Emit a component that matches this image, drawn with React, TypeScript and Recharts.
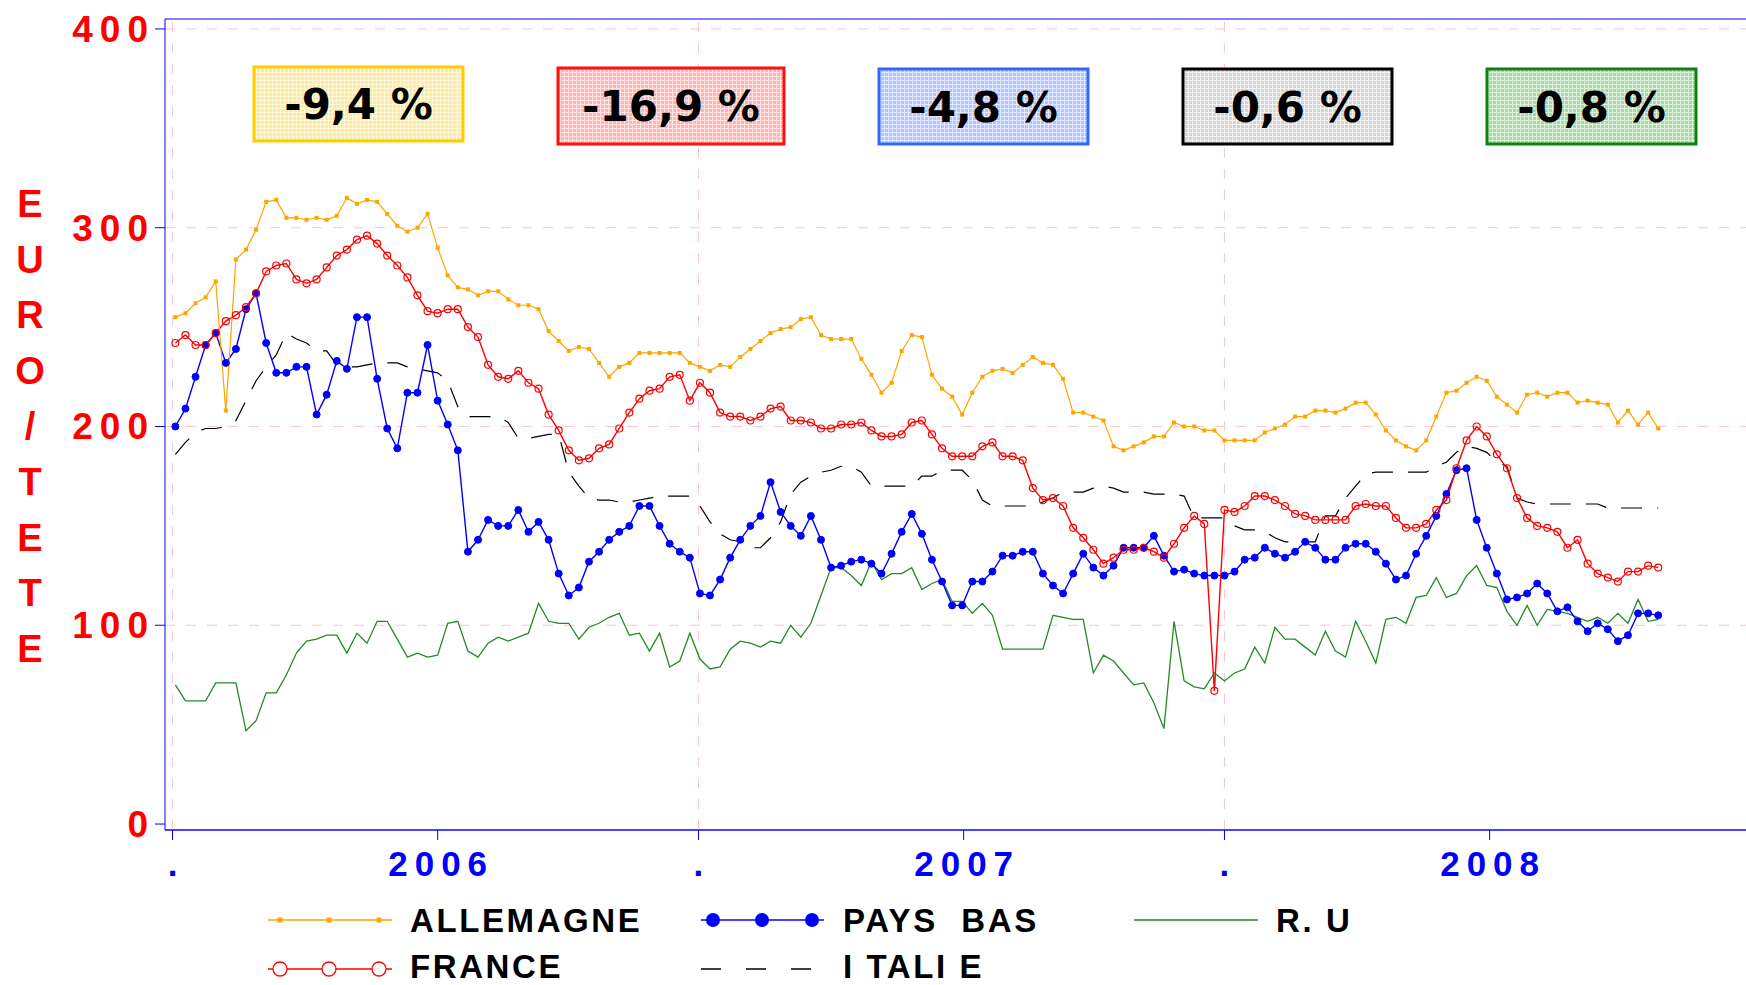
import React from "react";
import { LineChart, Line, XAxis, YAxis, ReferenceLine } from "recharts";

document.body.style.margin = "0";

// weekly prices, first week starting 2005-07-03
const startDate = "2005-07-03";

const allemagne = [
  255, 257, 262, 265, 273, 208, 284, 289, 299, 313, 314, 305, 305, 304, 305, 304, 306, 315, 312, 314, 313, 307, 301, 298, 300, 307,
  290, 276, 270, 269, 266, 268, 268, 264, 261, 261, 259, 248, 243, 238, 240, 239, 232, 225, 230, 232, 237, 237, 237, 237, 237, 232,
  230, 228, 231, 230, 235, 239, 243, 247, 249, 250, 254, 255, 246, 244, 244, 244, 234, 226, 217, 222, 238, 246, 245, 226, 219, 215,
  206, 217, 225, 228, 229, 227, 231, 235, 232, 231, 224, 207, 207, 205, 203, 190, 188, 190, 192, 195, 195, 202, 200, 200, 198, 198,
  193, 193, 193, 193, 197, 199, 201, 205, 205, 208, 208, 207, 209, 212, 212, 206, 198, 193, 190, 188, 193, 205, 217, 218, 222,
  225, 223, 215, 211, 207, 216, 217, 215, 217, 217, 212, 213, 212, 211, 202, 208, 201, 207, 199,
];

const france = [
  242, 246, 241, 241, 247, 253, 256, 260, 267, 278, 281, 282, 274, 272, 274, 280, 286, 289, 294, 296, 292, 286, 281, 275, 266, 258,
  257, 259, 259, 250, 245, 231, 225, 224, 228, 222, 219, 206, 198, 188, 183, 184, 189, 191, 199, 207, 214, 218, 219, 225, 226, 213,
  222, 217, 207, 205, 205, 203, 205, 209, 210, 203, 203, 202, 199, 199, 201, 201, 202, 198, 195, 195, 196, 202, 203, 196, 189, 185,
  185, 185, 190, 192, 185, 185, 183, 169, 163, 164, 160, 149, 144, 138, 131, 134, 138, 138, 139, 137, 134, 141, 149, 155, 151, 67,
  158, 157, 160, 165, 165, 163, 160, 156, 155, 153, 153, 153, 153, 160, 161, 160, 160, 154, 149, 149, 151, 158, 163, 179, 193,
  200, 195, 186, 179, 164, 154, 150, 149, 147, 139, 143, 131, 126, 124, 122, 127, 127, 130, 129,
];

const paysBas = [
  200, 209, 225, 241, 247, 232, 239, 259, 267, 242, 227, 227, 230, 230, 206, 216, 233, 229, 255, 255, 224, 199, 189, 217, 217, 241,
  213, 201, 188, 137, 143, 153, 150, 150, 158, 147, 152, 143, 126, 115, 119, 132, 137, 143, 147, 150, 160, 160, 150, 141, 137, 134,
  116, 115, 123, 134, 143, 150, 155, 172, 157, 150, 145, 155, 143, 129, 130, 132, 133, 131, 126, 136, 147, 156, 146, 133, 122, 110,
  110, 122, 122, 127, 135, 135, 137, 137, 126, 120, 116, 126, 136, 129, 125, 130, 139, 139, 139, 145, 135, 127, 128, 126, 125, 125,
  125, 127, 133, 134, 139, 136, 134, 137, 142, 139, 133, 133, 139, 141, 141, 137, 131, 123, 125, 136, 145, 155, 166, 178, 179,
  153, 139, 126, 113, 114, 116, 121, 116, 107, 109, 102, 97, 101, 98, 92, 95, 106, 106, 105,
];

const ru = [
  70, 62, 62, 62, 71, 71, 71, 47, 52, 66, 66, 75, 86, 92, 93, 95, 95, 86, 96, 91, 102, 102, 93, 84, 86, 84,
  85, 101, 102, 87, 84, 91, 94, 92, 94, 96, 111, 102, 101, 101, 93, 99, 101, 104, 106, 95, 96, 87, 96, 79, 82, 96,
  83, 78, 79, 88, 92, 91, 89, 92, 91, 100, 94, 101, 115, 129, 129, 125, 120, 132, 123, 126, 126, 129, 118, 121, 123, 112,
  112, 106, 111, 105, 88, 88, 88, 88, 88, 105, 104, 103, 103, 76, 85, 82, 76, 70, 71, 61, 48, 102, 72, 69, 68, 76,
  72, 76, 78, 89, 81, 99, 93, 93, 89, 85, 97, 87, 84, 102, 92, 81, 103, 104, 101, 114, 115, 124, 114, 116, 125,
  130, 120, 119, 107, 100, 110, 100, 108, 107, 106, 104, 102, 104, 101, 106, 101, 113, 102, 103,
];

const italie = [
  186, 192, 197, 199, 199, 200, 203, 213, 223, 230, 236, 247, 244, 242, 238, 238, 231, 230, 230, 231, 232, 232, 232, 230, 229, 228,
  227, 223, 210, 205, 205, 205, 205, 202, 194, 194, 195, 196, 196, 177, 170, 164, 163, 163, 162, 162, 163, 164, 165, 165, 165, 165,
  160, 152, 146, 143, 142, 139, 139, 144, 152, 166, 172, 175, 177, 178, 180, 180, 177, 170, 170, 170, 170, 170, 175, 175, 178, 178,
  178, 173, 163, 160, 160, 160, 160, 160, 162, 164, 167, 167, 167, 169, 170, 169, 167, 167, 167, 166, 166, 166, 165, 154, 154, 154,
  154, 150, 148, 148, 147, 144, 142, 142, 142, 142, 155, 155, 164, 170, 176, 177, 177, 177, 177, 177, 177, 180, 182, 187, 190,
  189, 187, 182, 180, 164, 162, 161, 161, 161, 161, 161, 161, 161, 159, 159, 159, 159, 159, 159,
];

const tickDates = ["2005-07-01", "2006-01-01", "2006-07-01", "2007-01-01", "2007-07-01", "2008-01-01"];
const tickLabels = [".", "2006", ".", "2007", ".", "2008"];
const yTicks = [0, 100, 200, 300, 400];
const gridValues = [100, 200, 300, 400];
const badgeTexts = ["-9,4 %", "-16,9 %", "-4,8 %", "-0,6 %", "-0,8 %"];
const axisTitle = "EURO/TETE";

const DAY = 86400000;
const t0 = Date.parse(startDate);
const toDay = (s: string) => Math.round((Date.parse(s) - t0) / DAY);
const tickDays = tickDates.map(toDay);
const gridDays = tickDays.filter((_, i) => tickLabels[i] === ".");

const data = allemagne.map((v, i) => ({
  day: i * 7,
  allemagne: v,
  france: france[i],
  paysBas: paysBas[i],
  italie: italie[i],
  ru: ru[i],
}));

const FONT = "'Liberation Sans', Arial, sans-serif";
const BADGE_FONT = "'DejaVu Sans', sans-serif";
const PINK = "#ffc4ce";

function XTick(props: any) {
  const { x, y, payload } = props;
  const label = tickLabels[tickDays.indexOf(payload.value)];
  return (
    <text x={x + 3.5} y={y + 34} textAnchor="middle" fill="#0000ff" fontSize={35} fontWeight="bold" fontFamily={FONT} letterSpacing={7}>
      {label}
    </text>
  );
}

function YTick(props: any) {
  const { x, y, payload } = props;
  return (
    <text x={x + 2} y={y + 13} textAnchor="end" fill="#ff0000" fontSize={37} fontWeight="bold" fontFamily={FONT} letterSpacing={7}>
      {payload.value}
    </text>
  );
}

const squareDot = (p: any) => (
  <rect key={`sq-${p.index}`} x={p.cx - 2} y={p.cy - 2} width={4} height={4} fill="#ffa500" />
);

// badge boxes: [left, top, width, height], border, base fill, grid
const badgeBoxes = [
  { box: [254, 67, 209, 74], border: "#ffcc00", fill: "#ffec9a", line: "#fff8d8" },
  { box: [558, 68, 226, 76], border: "#ff1010", fill: "#ffb4b4", line: "#ffe2e2" },
  { box: [879, 69, 209, 75], border: "#3366ff", fill: "#b4c4ff", line: "#e2e8ff" },
  { box: [1183, 69, 209, 75], border: "#000000", fill: "#d4d4d4", line: "#f2f2f2" },
  { box: [1487, 69, 209, 75], border: "#108010", fill: "#a8d8a8", line: "#dcf0dc" },
];

function Overlay() {
  return (
    <svg width={1746} height={985} style={{ position: "absolute", left: 0, top: 0, pointerEvents: "none" }}>
      <defs>
        {badgeBoxes.map((b, i) => (
          <pattern key={i} id={`pat${i}`} width={4} height={4} patternUnits="userSpaceOnUse">
            <rect width={4} height={4} fill={b.fill} />
            <path d="M0 0.5H4M0.5 0V4" stroke={b.line} strokeWidth={1} />
          </pattern>
        ))}
      </defs>

      {/* vertical axis title */}
      {axisTitle.split("").map((ch, i) => (
        <text key={i} x={30} y={217 + i * 55.6} textAnchor="middle" fill="#ff0000" fontSize={38} fontWeight="bold" fontFamily={FONT}>
          {ch}
        </text>
      ))}

      {/* percentage badges */}
      {badgeBoxes.map((b, i) => {
        const [l, t, w, h] = b.box;
        return (
          <g key={i}>
            <rect x={l} y={t} width={w} height={h} fill={`url(#pat${i})`} stroke={b.border} strokeWidth={3} />
            <text x={l + w / 2} y={t + h / 2 + 15} textAnchor="middle" fill="#000" fontSize={42} fontWeight="bold" fontFamily={BADGE_FONT}>
              {badgeTexts[i]}
            </text>
          </g>
        );
      })}

      {/* legend */}
      <g fontFamily={FONT} fontSize={33} fontWeight="bold" fill="#000" letterSpacing={2.6} style={{ whiteSpace: "pre" }}>
        <line x1={268} y1={920} x2={392} y2={920} stroke="#ffa500" strokeWidth={1.5} />
        {[280, 329, 379].map((cx) => (
          <rect key={cx} x={cx - 2.5} y={917.5} width={5} height={5} fill="#ffa500" />
        ))}
        <text x={410} y={932}>ALLEMAGNE</text>

        <line x1={701} y1={920} x2={824} y2={920} stroke="#0000ff" strokeWidth={1.5} />
        {[713, 762, 812].map((cx) => (
          <circle key={cx} cx={cx} cy={920} r={7} fill="#0000ff" />
        ))}
        <text x={843} y={932} xmlSpace="preserve">PAYS  BAS</text>

        <line x1={1134} y1={920} x2={1258} y2={920} stroke="#228b22" strokeWidth={1.5} />
        <text x={1276} y={932}>R. U</text>

        <line x1={268} y1={969} x2={392} y2={969} stroke="#ff0000" strokeWidth={1.5} />
        {[280, 329, 379].map((cx) => (
          <circle key={cx} cx={cx} cy={969} r={7} fill="#fff" stroke="#ff0000" strokeWidth={1.3} />
        ))}
        <text x={410} y={978}>FRANCE</text>

        <line x1={701} y1={969} x2={812} y2={969} stroke="#000" strokeWidth={1.3} strokeDasharray="20 25" />
        <text x={843} y={978} xmlSpace="preserve">I TALI E</text>
      </g>
    </svg>
  );
}

export default function App() {
  return (
    <div style={{ position: "relative", width: 1746, height: 985, background: "#fff" }}>
      <LineChart width={1746} height={985} data={data} margin={{ top: 19, right: 0, bottom: 95, left: 0 }}>
        <XAxis
          type="number"
          dataKey="day"
          domain={[-7.2, 1089.9]}
          allowDataOverflow
          ticks={tickDays}
          tick={<XTick />}
          tickSize={10}
          tickLine={{ stroke: "#0000ff" }}
          axisLine={{ stroke: "#4646ff", strokeWidth: 2 }}
          height={60}
        />
        <YAxis
          type="number"
          domain={[-3, 405]}
          allowDataOverflow
          ticks={yTicks}
          tick={<YTick />}
          tickSize={10}
          tickLine={{ stroke: "#0000ff" }}
          axisLine={{ stroke: "#0000ff" }}
          width={165}
        />
        {gridValues.map((v) => (
          <ReferenceLine key={`h${v}`} y={v} stroke={PINK} strokeDasharray="10 11" />
        ))}
        {gridDays.map((d) => (
          <ReferenceLine key={`v${d}`} x={d} stroke={PINK} strokeDasharray="10 11" />
        ))}
        <ReferenceLine y={405} stroke="#0000ff" />

        <Line type="linear" dataKey="italie" stroke="#000" strokeWidth={1.2} strokeDasharray="21 15" dot={false} isAnimationActive={false} />
        <Line type="linear" dataKey="ru" stroke="#228b22" strokeWidth={1.3} dot={false} isAnimationActive={false} />
        <Line
          type="linear"
          dataKey="paysBas"
          stroke="#0000ff"
          strokeWidth={1.4}
          dot={{ r: 3.5, fill: "#0000ff", stroke: "#0000ff", strokeWidth: 1 }}
          isAnimationActive={false}
        />
        <Line
          type="linear"
          dataKey="france"
          stroke="#ff0000"
          strokeWidth={1.4}
          dot={{ r: 3.5, fill: "none", stroke: "#ff0000", strokeWidth: 1.2 }}
          isAnimationActive={false}
        />
        <Line type="linear" dataKey="allemagne" stroke="#ffa500" strokeWidth={1.2} dot={squareDot} isAnimationActive={false} />
      </LineChart>
      <Overlay />
    </div>
  );
}
